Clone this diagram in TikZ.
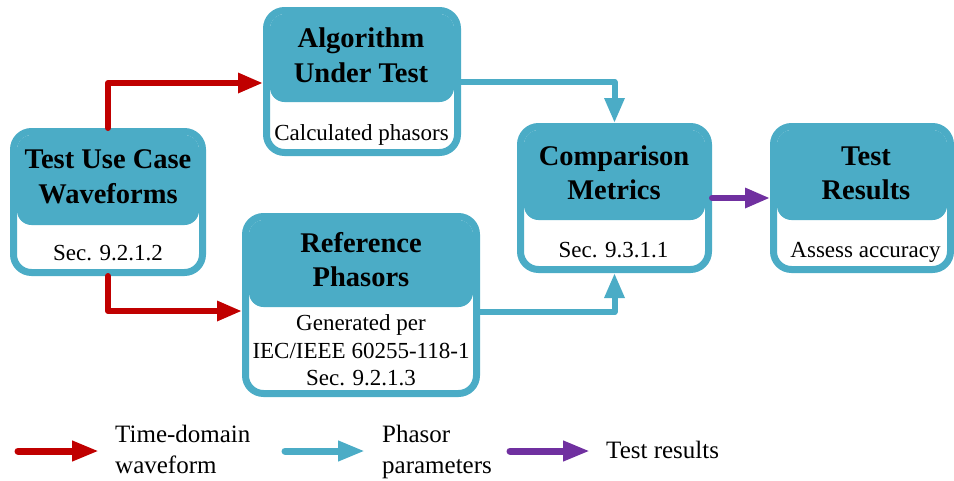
\documentclass[tikz,border=0pt]{standalone}
\usepackage{fontspec}
\setmainfont{LiberationSerif}[Extension=.ttf, UprightFont=*-Regular, BoldFont=*-Bold,
  ItalicFont=*-Italic, BoldItalicFont=*-BoldItalic]
\usetikzlibrary{arrows.meta}

\definecolor{boxteal}{HTML}{4BACC6}
\definecolor{flowred}{HTML}{C00000}
\definecolor{flowpurple}{HTML}{7030A0}

\tikzset{
  frame/.style={draw=boxteal, fill=white, line width=7pt, rounded corners=18pt,
    inner sep=0pt, outer sep=3.5pt, rectangle},
  header/.style={fill=boxteal, rounded corners=14.5pt},
  title/.style={font=\fontsize{28.5}{34}\selectfont\bfseries, anchor=base, inner sep=0pt},
  subtext/.style={font=\fontsize{23}{27}\selectfont, anchor=base, inner sep=0pt},
  legtext/.style={font=\fontsize{25}{30}\selectfont, anchor=base west, inner sep=0pt},
  flow/.style={line width=6pt, line cap=round, line join=round,
    -{Triangle[length=25pt,width=19pt]}},
  legflow/.style={line width=7pt, line cap=round,
    -{Triangle[length=27pt,width=19pt]}},
}

\begin{document}
\begin{tikzpicture}[x=1pt,y=-1pt]
\useasboundingbox (0,0) rectangle (954,480);

% ---- boxes: white body with teal frame, teal header band on top
\node[frame, minimum width=189pt, minimum height=141pt] (A) at (108,202) {};
\fill[header] (17,135) rectangle (199,225);
\node[frame, minimum width=191pt, minimum height=142pt] (B) at (362,81.5) {};
\fill[header] (270,14) rectangle (454,102);
\node[frame, minimum width=231pt, minimum height=177pt] (C) at (361,305) {};
\fill[header] (249,220) rectangle (473,307);
\node[frame, minimum width=188pt, minimum height=143pt] (D) at (614.5,198) {};
\fill[header] (524,130) rectangle (705,220);
\node[frame, minimum width=177pt, minimum height=143pt] (E) at (862,198) {};
\fill[header] (777,130) rectangle (947,220);

% ---- box texts
\node[title] (A-t1) at (108,168) {Test Use Case};
\node[title] (A-t2) at (108,203) {Waveforms};
\node[subtext] (A-s1) at (108,260) {Sec. 9.2.1.2};

\node[title] (B-t1) at (361,47) {Algorithm};
\node[title] (B-t2) at (361,82) {Under Test};
\node[subtext] (B-s1) at (361.5,140) {Calculated phasors};

\node[title] (C-t1) at (361,252) {Reference};
\node[title] (C-t2) at (361,286.5) {Phasors};
\node[subtext] (C-s1) at (361,330.5) {Generated per};
\node[subtext] (C-s2) at (361,358) {IEC/IEEE 60255-118-1};
\node[subtext] (C-s3) at (361,385) {Sec. 9.2.1.3};

\node[title] (D-t1) at (614,165) {Comparison};
\node[title] (D-t2) at (614,199) {Metrics};
\node[subtext] (D-s1) at (613.5,257) {Sec. 9.3.1.1};

\node[title] (E-t1) at (866,165) {Test};
\node[title] (E-t2) at (866,199) {Results};
\node[subtext] (E-s1) at (865.5,257) {Assess accuracy};

% ---- connectors
\draw[flow, flowred] (A.north) |- (B.west |- 0,83);
\draw[flow, flowred] (A.south) |- (C.west |- 0,311);
\draw[flow, boxteal] (B.east |- 0,82) -| (D.north);
\draw[flow, boxteal] (C.east |- 0,312) -| (D.south);
\draw[flow, flowpurple] (D.east) -- (E.west);

% ---- legend
\coordinate (lr0) at (18,451);  \coordinate (lr1) at (99,451);
\coordinate (lt0) at (285,451); \coordinate (lt1) at (365,451);
\coordinate (lp0) at (510,451); \coordinate (lp1) at (590,451);
\draw[legflow, flowred] (lr0) -- (lr1);
\draw[legflow, boxteal] (lt0) -- (lt1);
\draw[legflow, flowpurple] (lp0) -- (lp1);
\node[legtext] (L-r1) at (115,442) {Time-domain};
\node[legtext] (L-r2) at (115,473) {waveform};
\node[legtext] (L-t1) at (382,442) {Phasor};
\node[legtext] (L-t2) at (382,473) {parameters};
\node[legtext] (L-p1) at (606,458) {Test results};
\end{tikzpicture}
\end{document}
